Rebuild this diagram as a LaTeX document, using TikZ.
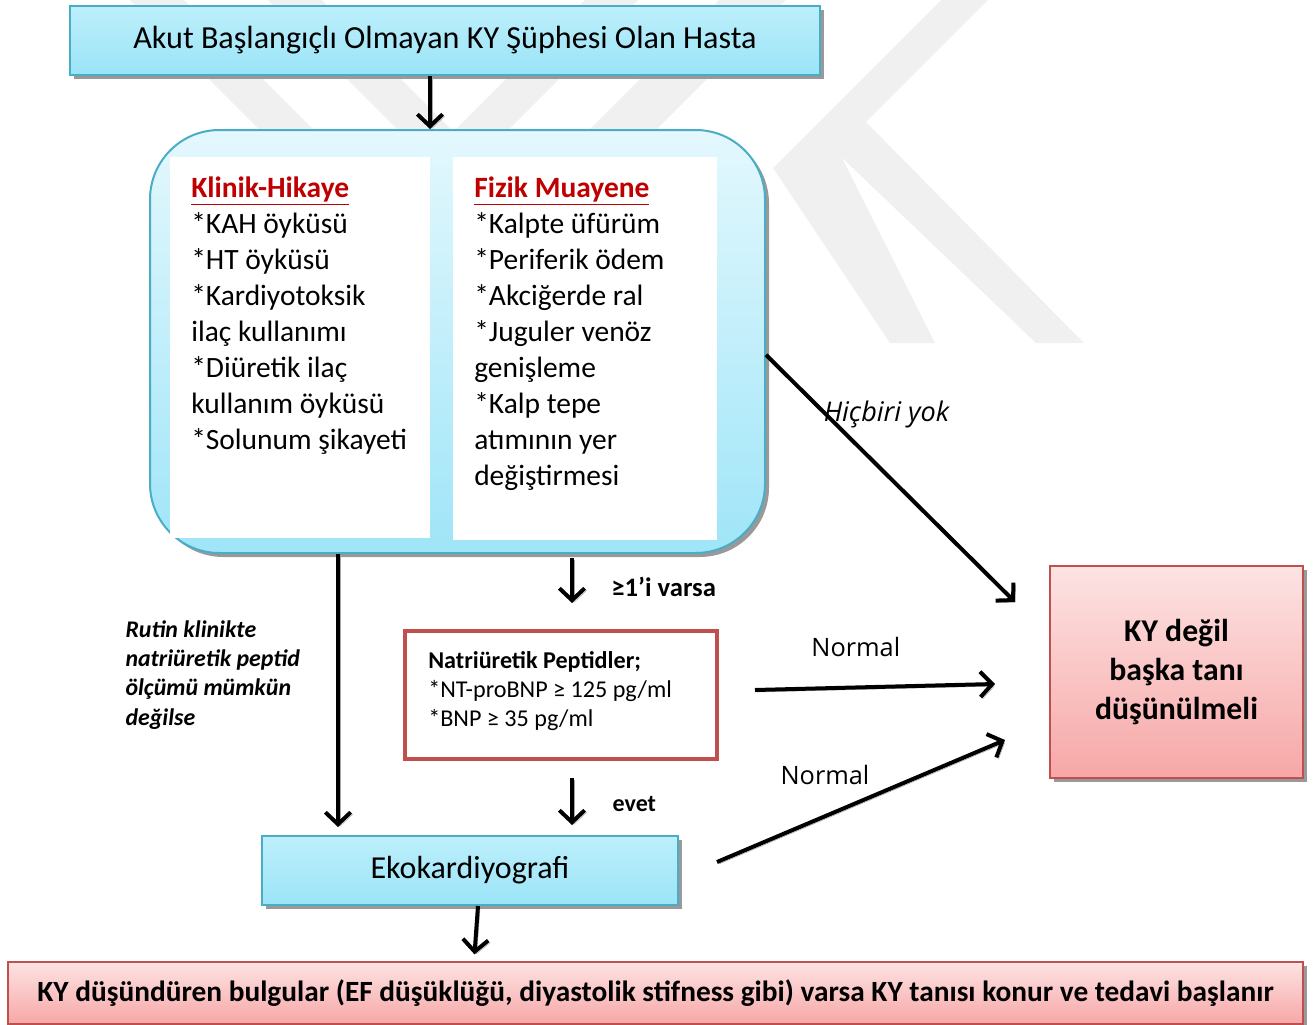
\documentclass[tikz,border=0pt]{standalone}
\usepackage{fontspec}
\setmainfont{Carlito}
\newfontfamily\osans{Open Sans}
\usetikzlibrary{arrows.meta}
\usetikzlibrary{shadows}

\definecolor{boxblue}{HTML}{4BACC6}
\definecolor{cyantop}{HTML}{BDEFFB}
\definecolor{cyanbot}{HTML}{9AE4F8}
\definecolor{paneltop}{HTML}{E4F8FD}
\definecolor{panelbot}{HTML}{9FE5F8}
\definecolor{boxred}{HTML}{C0504D}
\definecolor{pinktop}{HTML}{FDE3E3}
\definecolor{pinkbot}{HTML}{F7A7A7}
\definecolor{titlered}{HTML}{C00000}
\definecolor{wmark}{HTML}{F0F0F0}

\newcommand{\coltitle}[1]{\textcolor{titlered}{\textbf{\underline{#1}}}}

\tikzset{
  shadowed/.style={drop shadow={shadow xshift=3pt,shadow yshift=-3pt,opacity=1,fill=black!40}},
  cyanbox/.style={draw=boxblue,line width=1.5pt,top color=cyantop,bottom color=cyanbot,shadowed},
  pinkbox/.style={draw=boxred,line width=1.5pt,top color=pinktop,bottom color=pinkbot,shadowed},
  colbox/.style={fill=white,inner sep=0pt},
  coltext/.style={align=left,anchor=north west,inner sep=0pt,font=\fontsize{22.1}{27}\selectfont},
  arr/.style={line width=3pt,-{Straight Barb[length=9pt,width=19pt]},
    preaction={draw=black!35,transform canvas={shift={(1.5pt,-1.5pt)}}}},
  lbl/.style={inner sep=0pt,font=\bfseries\fontsize{18}{22}\selectfont},
  nlbl/.style={inner sep=0pt,font=\osans\fontsize{19}{23}\selectfont},
}

\begin{document}
\begin{tikzpicture}[x=0.75pt,y=-0.75pt]
  \useasboundingbox (0,0) rectangle (1315,1025);

  % watermark
  \fill[wmark] (130,0) -- (184,0) -- (324,140) -- (270,140) -- cycle;
  \fill[wmark] (268,0) -- (322,0) -- (462,140) -- (408,140) -- cycle;
  \fill[wmark] (585,0) -- (638,0) -- (498,140) -- (445,140) -- cycle;
  \fill[wmark] (719,0) -- (786,0) -- (646,140) -- (579,140) -- cycle;
  \fill[wmark] (941,0) -- (988,0) -- (838,150) -- (935,343) -- (890,343) -- (773,168) -- cycle;
  \fill[wmark] (836,152) -- (866,122) -- (1084,343) -- (1036,343) -- cycle;

  \node[cyanbox, minimum width=562.5pt, minimum height=51.75pt,
        font=\fontsize{24.1}{28}\selectfont] (top) at (445,40.5)
        {Akut Başlangıçlı Olmayan KY Şüphesi Olan Hasta};

  \node[draw=boxblue, line width=1.5pt, rounded corners=52pt, top color=paneltop,
        bottom color=panelbot, shadowed, minimum width=461.25pt,
        minimum height=317.25pt] (panel) at (457.5,341.5) {};
  \node[colbox, minimum width=195pt, minimum height=285.75pt] (klinikbox) at (300,347.5) {};
  \node[colbox, minimum width=198pt, minimum height=287.25pt] (fizikbox) at (585,348.5) {};

  \node[coltext] (klinik) at (191,177)
    {\coltitle{Klinik-Hikaye}\\{*}KAH öyküsü\\{*}HT öyküsü\\{*}Kardiyotoksik\\ilaç kullanımı\\
     {*}Diüretik ilaç\\kullanım öyküsü\\{*}Solunum şikayeti};
  \node[coltext] (fizik) at (474,177)
    {\coltitle{Fizik Muayene}\\{*}Kalpte üfürüm\\{*}Periferik ödem\\{*}Akciğerde ral\\{*}Juguler venöz\\
     genişleme\\{*}Kalp tepe\\atımının yer\\değiştirmesi};

  \node[draw=boxred, line width=3pt, fill=white, minimum width=234pt,
        minimum height=96pt] (natri) at (561,695) {};
  \node[align=left, anchor=north west, inner sep=0pt,
        font=\fontsize{18.1}{21.75}\selectfont] (natritext) at (428,651)
        {\textbf{Natriüretik Peptidler;}\\{*}NT-proBNP ≥ 125 pg/ml\\{*}BNP ≥ 35 pg/ml};

  \node[cyanbox, minimum width=312pt, minimum height=51.75pt,
        font=\fontsize{24}{28}\selectfont] (eko) at (470,870.5) {Ekokardiyografi};

  \node[pinkbox, minimum width=189.75pt, minimum height=159pt, align=center,
        font=\bfseries\fontsize{23.8}{29.6}\selectfont] (kydegil) at (1176.5,672)
        {KY değil\\başka tanı\\düşünülmeli};

  \node[pinkbox, minimum width=971.25pt, minimum height=46.5pt,
        font=\bfseries\fontsize{22}{26}\selectfont] (sonuc) at (655.5,993)
        {KY düşündüren bulgular (EF düşüklüğü, diyastolik stifness gibi) varsa KY tanısı konur ve tedavi başlanır};

  \coordinate (hicEnd) at (1015,602);
  \coordinate (varsaA) at (572,558);
  \coordinate (varsaB) at (572,603);
  \coordinate (evetA) at (572,778);
  \coordinate (evetB) at (572,825);
  \coordinate (norm1A) at (755,690);
  \coordinate (norm1B) at (995,684);
  \coordinate (norm2A) at (717,862);
  \coordinate (norm2B) at (1005,740);

  \draw (430,0 |- top.south) edge[arr] (430,0 |- panel.north);
  \draw (338,0 |- panel.south) edge[arr, shorten >=6pt]
        node[pos=0.43, anchor=east, xshift=-27pt, align=left, inner sep=0pt,
             font=\bfseries\itshape\fontsize{17.9}{22}\selectfont]
        {Rutin klinikte\\natriüretik peptid\\ölçümü mümkün\\değilse} (338,0 |- eko.north);
  \draw (varsaA) edge[arr] node[lbl, pos=0.64, anchor=west, xshift=28pt,
        font=\bfseries\fontsize{20}{24}\selectfont] {≥1’i varsa} (varsaB);
  \draw (evetA) edge[arr] node[lbl, pos=0.55, anchor=west, xshift=29pt] {evet} (evetB);
  \draw ([yshift=-10pt]panel.east) edge[arr]
        node[nlbl, pos=0.24, anchor=west, xshift=-3pt,
             font=\osans\itshape\fontsize{20.3}{24}\selectfont] {Hiçbiri yok} (hicEnd);
  \draw (norm1A) edge[arr] node[nlbl, pos=0.42, yshift=30pt] {Normal} (norm1B);
  \draw (norm2A) edge[arr] node[nlbl, pos=0.375, yshift=31pt] {Normal} (norm2B);
  \draw (478,0 |- eko.south) edge[arr, shorten >=5pt] (474,0 |- sonuc.north);
\end{tikzpicture}
\end{document}
